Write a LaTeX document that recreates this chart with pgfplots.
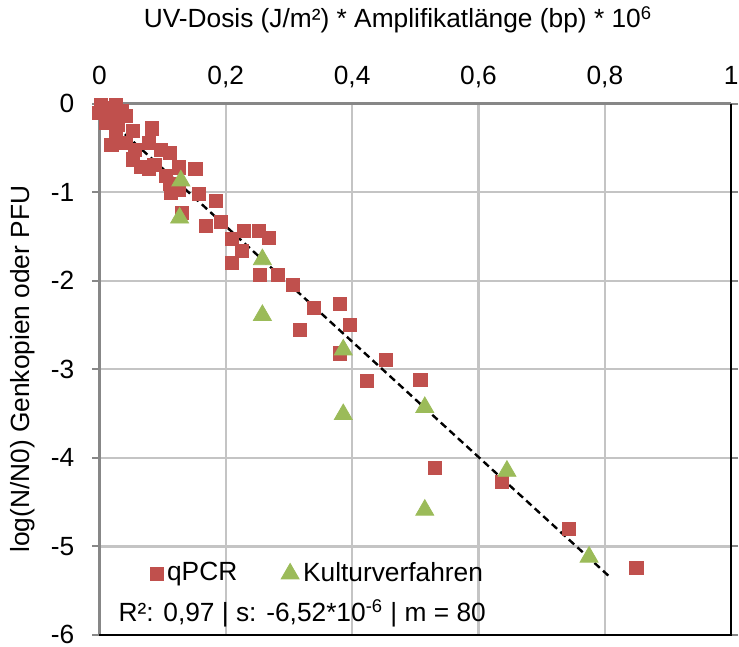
\documentclass[border=0pt]{standalone}
\usepackage{pgfplots}
\pgfplotsset{compat=1.18}
\usepackage{fontspec}
\setmainfont{Liberation Sans}
\definecolor{qred}{HTML}{C0504D}
\definecolor{kgreen}{HTML}{9BBB59}
\definecolor{gridgray}{HTML}{C4C4C4}
\definecolor{axgray}{HTML}{878787}

\begin{document}
\fontsize{13.2}{15.8}\selectfont
\begin{tikzpicture}
\begin{axis}[
  scale only axis, width=317pt, height=266.5pt,
  xmin=0, xmax=1, ymin=-6, ymax=0,
  xtick={0,0.2,0.4,0.6,0.8,1},
  ytick={-6,-5,-4,-3,-2,-1,0},
  xticklabel pos=upper,
  axis line style={draw=none},
  grid=major,
  major grid style={gridgray, line width=1.2pt},
  tick align=outside,
  major tick length=3.5pt,
  xtick style={draw=none},
  ytick style={axgray, line width=1pt},
  ticklabel style={font=\fontsize{13.2}{15.8}\selectfont},
  xticklabel style={anchor=base, yshift=6.3pt},
  yticklabel style={xshift=-4.5pt},
  /pgf/number format/.cd, use comma, assume math mode=true,
  /pgfplots/.cd,
  clip=false,
  legend columns=2,
  legend style={draw=none, fill=none, at={(axis cs:0.07,-5.31)}, anchor=west,
    font=\fontsize{13.2}{15.8}\selectfont,
    /tikz/every even column/.append style={column sep=20pt}},
  legend image code/.code={\draw[mark repeat=2,mark phase=2,#1] plot coordinates {(-3pt,0pt)(1pt,0pt)(5pt,0pt)};},
]
% Achsen und Rahmen
\draw[axgray, line width=1.5pt] (rel axis cs:0,0) -- (rel axis cs:0,1) -- (rel axis cs:1,1);
\draw[black, line width=1.2pt] (rel axis cs:1,1) -- (rel axis cs:1,0) -- (rel axis cs:0,0);

\addplot[only marks, mark=square*, mark size=3.3pt, color=qred] coordinates {
(0.003,-0.01) (0.026,-0.02) (0.000,-0.10) (0.008,-0.05) (0.035,-0.08)
(0.015,-0.15) (0.042,-0.14) (0.011,-0.22) (0.029,-0.24) (0.053,-0.31)
(0.083,-0.28) (0.026,-0.33) (0.019,-0.47) (0.042,-0.44) (0.078,-0.44)
(0.098,-0.52) (0.112,-0.56) (0.056,-0.52) (0.053,-0.63) (0.066,-0.71)
(0.079,-0.74) (0.087,-0.69) (0.105,-0.82) (0.111,-0.91) (0.113,-1.01)
(0.126,-0.72) (0.126,-0.97) (0.152,-0.74) (0.157,-1.02) (0.184,-1.10)
(0.192,-1.34) (0.168,-1.38) (0.210,-1.53) (0.229,-1.44) (0.252,-1.44)
(0.268,-1.52) (0.131,-1.23) (0.226,-1.66) (0.210,-1.80) (0.254,-1.93)
(0.282,-1.93) (0.306,-2.05) (0.339,-2.31) (0.381,-2.26) (0.318,-2.56)
(0.396,-2.50) (0.381,-2.82) (0.453,-2.89) (0.424,-3.13) (0.508,-3.12)
(0.531,-4.11) (0.637,-4.27) (0.743,-4.80) (0.850,-5.24)
};
\addlegendentry{qPCR}

\addplot[only marks, mark=triangle*, mark size=5.2pt, color=kgreen] coordinates {
(0.129,-0.87) (0.127,-1.29) (0.258,-1.76) (0.258,-2.39) (0.386,-2.78)
(0.386,-3.51) (0.515,-3.43) (0.515,-4.59) (0.645,-4.15) (0.775,-5.12)
};
\addlegendentry{Kulturverfahren}

% lineare Trendlinie
\addplot[black, line width=1.2pt, dash pattern=on 3.6pt off 2.2pt, forget plot] coordinates {
(0,-0.08) (0.81,-5.36)
};

\node at (rel axis cs:0.321,0.04) {R²: 0,97 | s: -6,52*10\textsuperscript{-6} | m = 80};
\end{axis}
\node at (149.8pt,308.5pt) {UV-Dosis (J/m²) * Amplifikatlänge (bp) * 10\textsuperscript{6}};
\node[rotate=90] at (-38.3pt,133.3pt) {log(N/N0) Genkopien oder PFU};
\pgfresetboundingbox
\path[use as bounding box] (-49.85pt,-5.6pt) rectangle (320.9pt,318.5pt);
\end{tikzpicture}
\end{document}
